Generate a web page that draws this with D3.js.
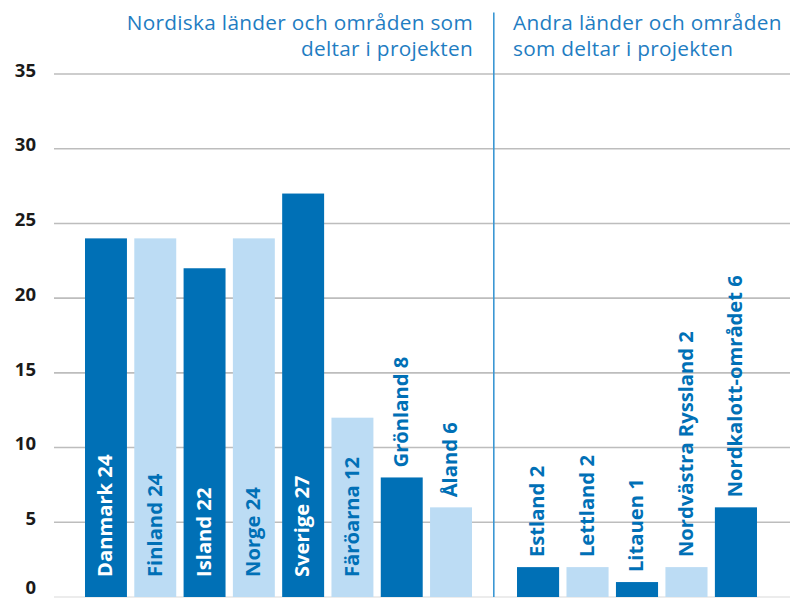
<!DOCTYPE html>
<html>
<head>
<meta charset="utf-8">
<script src="https://cdn.jsdelivr.net/npm/d3@7"></script>
<style>
  html, body { margin: 0; padding: 0; background: #ffffff; }
  svg { display: block; }
  text { font-family: "Open Sans", "Noto Sans", sans-serif; }
</style>
</head>
<body>
<svg id="chart" width="790" height="598"></svg>
<script>
// Nordic countries and areas taking part in the project
const nordicNames  = ["Danmark", "Finland", "Island", "Norge", "Sverige", "Färöarna", "Grönland", "Åland"];
const nordicValues = [24, 24, 22, 24, 27, 12, 8, 6];
// Other countries and areas taking part in the project
const otherNames  = ["Estland", "Lettland", "Litauen", "Nordvästra Ryssland", "Nordkalott-området"];
const otherValues = [2, 2, 1, 2, 6];

const yTicks = [0, 5, 10, 15, 20, 25, 30, 35];
const nordicTitle = ["Nordiska länder och områden som", "deltar i projekten"];
const otherTitle  = ["Andra länder och områden", "som deltar i projekten"];

const DARK = "#0070b6";
const LIGHT = "#bcdcf4";

const svg = d3.select("#chart");
const W = 790, H = 598;

const y = d3.scaleLinear().domain([0, 35]).range([597, 74]);

const nordic = nordicNames.map((n, i) => ({ name: n, value: nordicValues[i], i }));
const other  = otherNames.map((n, i) => ({ name: n, value: otherValues[i], i }));

const xNordic = d3.scaleBand().domain(nordic.map(d => d.name))
  .range([81.3, 475.7]).paddingInner(0.149).paddingOuter(0.075);
const xOther = d3.scaleBand().domain(other.map(d => d.name))
  .range([513.3, 760.7]).paddingInner(0.149).paddingOuter(0.075);

// horizontal gridlines
svg.append("g").selectAll("line").data(yTicks).join("line")
  .attr("x1", 54).attr("x2", W)
  .attr("y1", d => y(d)).attr("y2", d => y(d))
  .attr("stroke", d => d === 0 ? "#e6e6e6" : "#bdbdbd")
  .attr("stroke-width", 1.6);

// y axis tick labels (sit slightly above their gridline)
const yAxis = d3.axisLeft(y).tickValues(yTicks).tickSize(0).tickPadding(0);
const yg = svg.append("g").attr("transform", "translate(36,0)").call(yAxis);
yg.select(".domain").remove();
yg.selectAll(".tick").attr("transform", d => `translate(0,${Math.min(y(d) - 4, 587)})`);
yg.selectAll("text")
  .attr("font-family", "'Open Sans', sans-serif")
  .attr("font-size", 18.5)
  .attr("font-weight", 700)
  .attr("fill", "#1a1a1a")
  .attr("dy", "0.36em");

// divider between the two groups
svg.append("line")
  .attr("x1", 493.8).attr("x2", 493.8)
  .attr("y1", 12.5).attr("y2", 597)
  .attr("stroke", "#3b97d3").attr("stroke-width", 1.6);

// group titles, two lines each
function title(lines, x, anchor) {
  lines.forEach((l, k) => svg.append("text")
    .attr("x", x).attr("y", 30 + k * 25.5)
    .attr("text-anchor", anchor)
    .attr("font-size", 20.8)
    .attr("letter-spacing", 0.3)
    .attr("font-weight", 400)
    .attr("fill", "#1f7dc2")
    .text(l));
}
title(nordicTitle, 473, "end");
title(otherTitle, 513, "start");

function drawBars(data, x) {
  const g = svg.append("g");
  g.selectAll("rect").data(data).join("rect")
    .attr("x", d => x(d.name))
    .attr("width", x.bandwidth())
    .attr("y", d => y(d.value))
    .attr("height", d => y(0) - y(d.value))
    .attr("fill", d => d.i % 2 === 0 ? DARK : LIGHT);

  // value labels: inside the bar when they fit, otherwise above it
  g.selectAll("text").data(data).join("text")
    .attr("font-size", 20.2)
    .attr("font-weight", 700)
    .text(d => `${d.name} ${d.value}`)
    .each(function (d) {
      const len = this.getComputedTextLength();
      const barH = y(0) - y(d.value);
      const cx = x(d.name) + x.bandwidth() / 2;
      const inside = len + 28 < barH;
      const ty = inside ? y(0) - 20 : y(d.value) - 10;
      d3.select(this)
        .attr("transform", `translate(${cx - 1},${ty}) rotate(-90)`)
        .attr("dy", "0.36em")
        .attr("fill", inside && d.i % 2 === 0 ? "#ffffff" : DARK);
    });
}
drawBars(nordic, xNordic);
drawBars(other, xOther);
</script>
</body>
</html>
